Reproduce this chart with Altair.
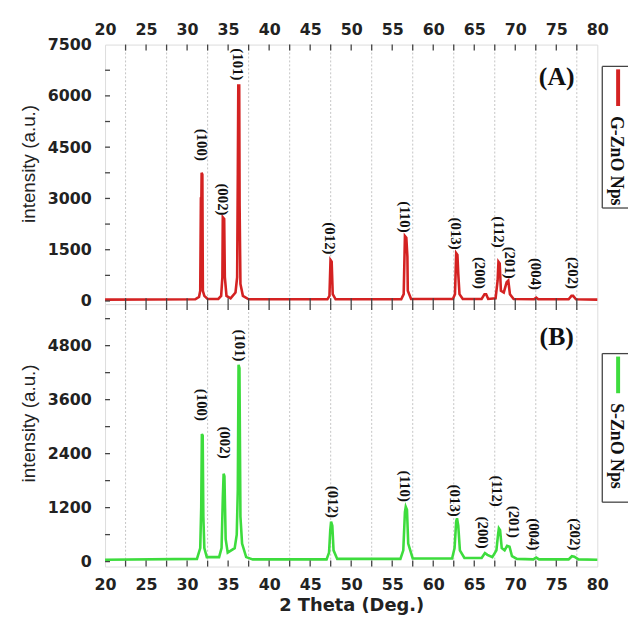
import altair as alt
import pandas as pd

# ---------------- data ----------------
# (A) G-ZnO Nps : 2-theta (deg) and intensity (a.u.)
a_theta = [20.0, 31.0, 31.45, 31.6, 31.68, 31.74, 31.77, 31.86, 31.92, 32.1, 32.5,
           33.8, 34.15, 34.3, 34.35, 34.52, 34.6, 34.8, 35.3, 35.9, 36.1, 36.18,
           36.24, 36.35, 36.4, 36.5, 36.8, 37.5, 47.1, 47.35, 47.48, 47.62, 47.75,
           48.1, 56.1, 56.4, 56.55, 56.72, 56.85, 56.9, 57.3, 62.4, 62.65, 62.8,
           62.95, 63.05, 63.2, 63.6, 65.9, 66.25, 66.45, 66.7, 67.6, 67.85, 67.95,
           68.1, 68.25, 68.6, 68.95, 69.15, 69.35, 69.8, 72.3, 72.55, 72.8, 76.5,
           76.85, 77.05, 77.4, 80.0]
a_int = [40, 50, 120, 300, 3000, 3000, 3750, 3700, 300, 150, 60,
         60, 150, 700, 2450, 2400, 700, 150, 80, 250, 700, 3700,
         6300, 6300, 2800, 500, 150, 50, 50, 150, 1200, 1150, 200,
         50, 50, 200, 1900, 1850, 1300, 300, 60, 60, 200, 1400,
         1350, 800, 200, 60, 60, 200, 200, 60, 80, 600, 1150,
         1100, 300, 250, 550, 600, 200, 60, 50, 100, 50, 50,
         150, 150, 50, 40]

# (B) S-ZnO Nps
b_theta = [20.0, 31.2, 31.6, 31.72, 31.8, 31.9, 31.98, 32.1, 32.4, 33.9, 34.2,
           34.35, 34.45, 34.55, 34.7, 34.95, 35.8, 36.05, 36.18, 36.27, 36.38,
           36.5, 36.7, 37.2, 38.0, 47.0, 47.3, 47.45, 47.55, 47.7, 47.85, 48.3,
           56.0, 56.35, 56.55, 56.65, 56.8, 56.95, 57.5, 62.3, 62.6, 62.8, 62.9,
           63.05, 63.25, 63.8, 65.9, 66.3, 66.6, 67.2, 67.7, 67.9, 68.0, 68.15,
           68.35, 68.7, 69.0, 69.3, 69.6, 70.2, 72.2, 72.55, 72.9, 76.5, 76.9,
           77.2, 77.7, 80.0]
b_int = [40, 60, 300, 1200, 2834, 2800, 1000, 300, 100, 100, 300,
         1400, 1952, 1900, 500, 200, 300, 600, 1600, 4374, 4300,
         1000, 400, 100, 50, 50, 200, 700, 888, 800, 250, 60,
         60, 250, 1100, 1218, 1150, 400, 70, 70, 300, 900, 962,
         800, 250, 80, 80, 191, 150, 100, 250, 600, 741, 700,
         300, 250, 352, 330, 120, 60, 50, 90, 50, 50, 120,
         110, 50, 40]

hkl = ["(100)", "(002)", "(101)", "(012)", "(110)", "(013)",
       "(200)", "(112)", "(201)", "(004)", "(202)"]
a_lab_x = [31.85, 34.4, 36.2, 47.45, 56.5, 62.8, 65.7, 68.0, 69.35, 72.5, 77.0]
a_lab_y = [4100, 2500, 6450, 1360, 2000, 1500, 350, 1560, 650, 320, 350]
b_lab_x = [31.8, 34.6, 36.4, 47.8, 56.6, 62.6, 66.0, 67.8, 69.8, 72.3, 77.3]
b_lab_y = [3126, 2290, 4447, 969, 1328, 997, 286, 1218, 528, 249, 249]

x_labels = [20, 25, 30, 35, 40, 45, 50, 55, 60, 65, 70, 75, 80]
x_minor = [22.5, 27.5, 32.5, 37.5, 42.5, 47.5, 52.5, 57.5, 62.5, 67.5, 72.5, 77.5]
a_y_labels = [0, 1500, 3000, 4500, 6000, 7500]
a_y_minor = [750, 2250, 3750, 5250, 6750]
b_y_labels = [0, 1200, 2400, 3600, 4800]
b_y_minor = [600, 1800, 3000, 4200, 5400]

series_names = ["G-ZnO Nps", "S-ZnO Nps"]
panel_names = ["(A)", "(B)"]
colors = ["#d42222", "#3ddc3d"]

# ---------------- chart ----------------
W = 497
LABEL_FONT = "DejaVu Sans"
SERIF = "Liberation Serif"
one = pd.DataFrame({"k": [0]})
BOX_R = 528  # right end of the (cut) legend box, px from plot left


def panel(theta, inten, lab_x, lab_y, ydom, H, y_labels, y_minor, color,
          sname, pname, top, legend_y):
    xs = alt.Scale(domain=[20, 80], nice=False, zero=False)
    ys = alt.Scale(domain=ydom, nice=False, zero=False)
    df = pd.DataFrame({"t": theta, "i": inten})
    lab = pd.DataFrame({"x": lab_x, "y": lab_y, "h": hkl})

    if top:
        xaxis = alt.Axis(orient="top", values=x_labels, ticks=False, domain=False,
                         grid=False, labelFont=LABEL_FONT, labelFontWeight="bold",
                         labelFontSize=16, labelColor="#222", labelPadding=7,
                         labelFlush=False, labelOverlap=False, title="")
    else:
        xaxis = alt.Axis(orient="bottom", values=x_labels, ticks=False, domain=False,
                         grid=False, labelFont=LABEL_FONT, labelFontWeight="bold",
                         labelFontSize=16, labelColor="#222", labelPadding=10,
                         labelFlush=False, labelOverlap=False,
                         title="2 Theta (Deg.)", titleFont=LABEL_FONT,
                         titleFontWeight="bold", titleFontSize=18, titleColor="#222",
                         titlePadding=4)
    yaxis = alt.Axis(values=y_labels, format="d", ticks=False, domain=False, grid=False,
                     labelFont=LABEL_FONT, labelFontWeight="bold", labelFontSize=16,
                     labelColor="#222", labelPadding=14, labelFlush=False,
                     labelOverlap=False,
                     title="intensity (a.u.)", titleFont="Liberation Sans",
                     titleFontWeight="normal", titleFontSize=19, titleColor="#222",
                     titlePadding=9, titleY=120)

    def X(f):
        return alt.X(f, scale=xs, axis=xaxis)

    def Y(f):
        return alt.Y(f, scale=ys, axis=yaxis)

    line = alt.Chart(df).mark_line(color=color, strokeWidth=2.6).encode(
        x=X("t:Q"), y=Y("i:Q"))

    grid = alt.Chart(pd.DataFrame({"g": x_minor})).mark_rule(
        color="#c4c4c4", strokeDash=[2, 2], strokeWidth=1
    ).encode(x=X("g:Q"), y=alt.value(0), y2=alt.value(H))

    labels = alt.Chart(lab).mark_text(
        angle=90, align="right", baseline="middle", font=SERIF,
        fontWeight="bold", fontSize=15, color="#111"
    ).encode(x=X("x:Q"), y=Y("y:Q"), text="h:N")

    xt_all = pd.DataFrame({"v": x_labels[1:-1] + x_minor})
    xt_top = alt.Chart(xt_all).mark_rule(color="#444", strokeWidth=1.3).encode(
        x=X("v:Q"), y=alt.value(0), y2=alt.value(6))
    xt_bot = alt.Chart(xt_all).mark_rule(color="#444", strokeWidth=1.3).encode(
        x=X("v:Q"), y=alt.value(H), y2=alt.value(H - 6))

    yt = alt.Chart(pd.DataFrame({"v": y_labels + y_minor})).transform_filter(
        (alt.datum.v > ydom[0]) & (alt.datum.v < ydom[1])
    ).mark_rule(color="#444", strokeWidth=1.3).encode(
        y=Y("v:Q"), x=alt.value(0), x2=alt.value(5))

    ptxt = alt.Chart(pd.DataFrame({"p": [pname]})).mark_text(
        font=SERIF, fontWeight="bold", fontSize=26, color="#111",
        align="center", baseline="middle"
    ).encode(x=alt.value(456), y=alt.value(33), text="p:N")

    ly0, ly1 = legend_y
    box_style = dict(color="#444", strokeWidth=1.3)
    b_top = alt.Chart(one).mark_rule(**box_style).encode(
        x=alt.value(502), x2=alt.value(BOX_R), y=alt.value(ly0))
    b_left = alt.Chart(one).mark_rule(**box_style).encode(
        x=alt.value(502), y=alt.value(ly0), y2=alt.value(ly1))
    b_bot = alt.Chart(one).mark_rule(**box_style).encode(
        x=alt.value(502), x2=alt.value(BOX_R), y=alt.value(ly1))
    l_line = alt.Chart(one).mark_rule(color=color, strokeWidth=4).encode(
        x=alt.value(518), y=alt.value(ly0 + 3), y2=alt.value(ly0 + 40))
    l_txt = alt.Chart(pd.DataFrame({"s": [sname]})).mark_text(
        angle=90, align="left", baseline="middle", font=SERIF, fontWeight="bold",
        fontSize=18, color="#111"
    ).encode(x=alt.value(516), y=alt.value(ly0 + 50), text="s:N")

    return alt.layer(grid, line, labels, xt_top, xt_bot, yt, ptxt,
                     b_top, b_left, b_bot, l_line, l_txt).properties(width=W, height=H)


top_panel = panel(a_theta, a_int, a_lab_x, a_lab_y, [-90, 7500], 262,
                  a_y_labels, a_y_minor, colors[0], series_names[0], panel_names[0],
                  True, (22, 165))
bot_panel = panel(b_theta, b_int, b_lab_x, b_lab_y, [-110, 5724], 265,
                  b_y_labels, b_y_minor, colors[1], series_names[1], panel_names[1],
                  False, (50, 200))

chart = alt.vconcat(top_panel, bot_panel, spacing=0, bounds="flush").properties(
    padding={"left": 10, "top": 10, "right": 0, "bottom": 0}
).configure_view(stroke="#444", strokeWidth=1.5).configure(background="white")

chart.save("out.html", embed_options={"renderer": "svg", "actions": False})
